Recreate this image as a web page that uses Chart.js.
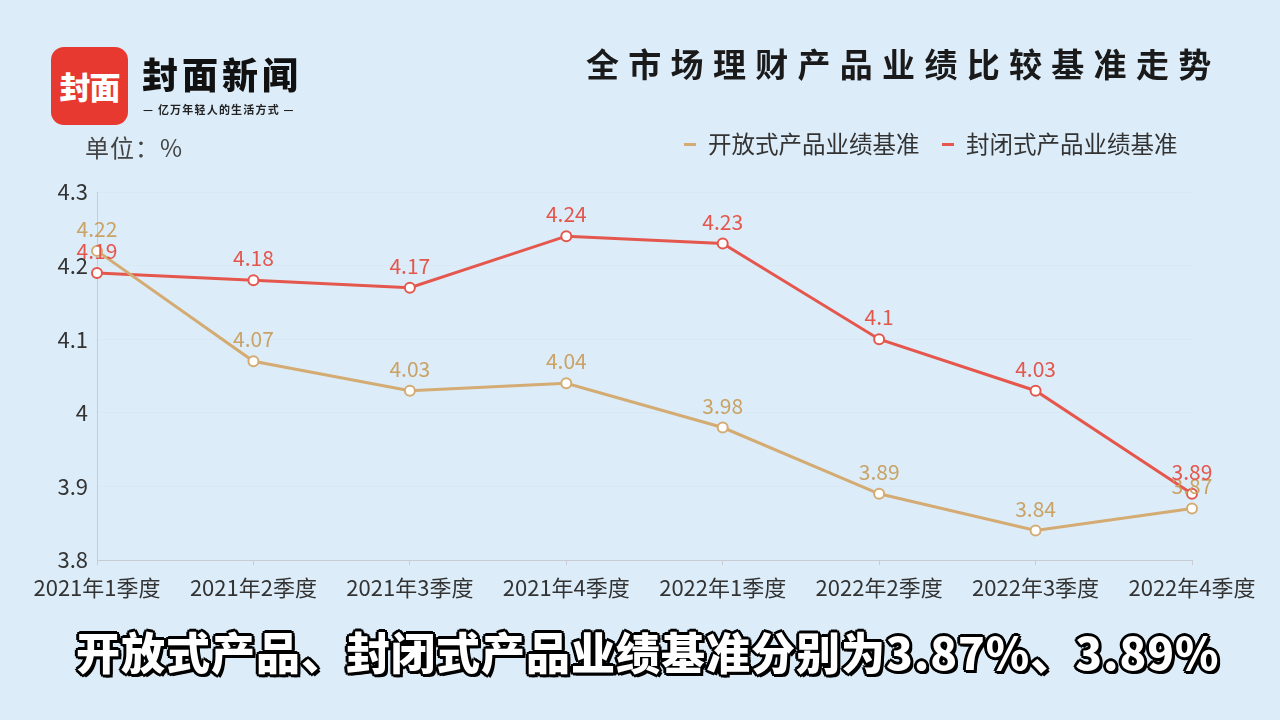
<!DOCTYPE html>
<html>
<head>
<meta charset="utf-8">
<script src="https://cdn.jsdelivr.net/npm/chart.js@4"></script>
<style>
  html, body { margin: 0; padding: 0; }
  body { width: 1280px; height: 720px; background: #dcedf9; position: relative; overflow: hidden;
         font-family: "Noto Sans CJK SC", "Noto Sans", sans-serif; }
  #wrap { position: absolute; left: 0; top: 0; width: 1280px; height: 720px; }
  .logo { position: absolute; left: 51px; top: 47px; width: 77px; height: 78px; background: #e7392f;
          border-radius: 13px; color: #fff; font-weight: 900; font-size: 31px; line-height: 78px; text-align: center; letter-spacing: -1px; }
  .brand { position: absolute; left: 142px; top: 48px; font-size: 36px; font-weight: 900; color: #111; letter-spacing: 4px; line-height: 50px; }
  .slogan { position: absolute; left: 143px; top: 101px; font-size: 11px; font-weight: 700; color: #222; line-height: 16px; letter-spacing: 1.2px; }
  .title { position: absolute; left: 586px; top: 36px; font-size: 33px; font-weight: 700; color: #1a1a1a; letter-spacing: 9.3px; line-height: 54px; }
  .unit { position: absolute; left: 85px; top: 130px; font-size: 24px; color: #444; line-height: 34px; letter-spacing: 1px; }
  .legend { position: absolute; top: 127px; font-size: 23.5px; color: #333; line-height: 32px; }
  .legend i { display: inline-block; width: 12px; height: 3px; vertical-align: middle; margin-right: 12px; position: relative; top: -2px; }
  .caption { position: absolute; left: 76px; top: 621px; font-size: 44px; font-weight: 900; color: #fff; line-height: 60px; letter-spacing: 1px;
             text-shadow: -2px -2px 0 #000, 2px -2px 0 #000, -2px 2px 0 #000, 2px 2px 0 #000, 0 -3px 0 #000, 0 3px 0 #000, -3px 0 0 #000, 3px 0 0 #000, 3px 3px 0 #000; }
</style>
</head>
<body>
<div id="wrap"><canvas id="chart" width="1280" height="720"></canvas></div>
<div class="logo">封面</div>
<div class="brand">封面新闻</div>
<div class="slogan">— 亿万年轻人的生活方式 —</div>
<div class="title">全市场理财产品业绩比较基准走势</div>
<div class="unit">单位：%</div>
<div class="legend" style="left:684px"><i style="background:#d4ab72"></i>开放式产品业绩基准</div>
<div class="legend" style="left:942px"><i style="background:#e5574d"></i>封闭式产品业绩基准</div>
<div class="caption">开放式产品、封闭式产品业绩基准分别为3.87%、3.89%</div>
<script>
const quarters = ['2021年1季度','2021年2季度','2021年3季度','2021年4季度','2022年1季度','2022年2季度','2022年3季度','2022年4季度'];
const openValues = [4.22, 4.07, 4.03, 4.04, 3.98, 3.89, 3.84, 3.87];
const closedValues = [4.19, 4.18, 4.17, 4.24, 4.23, 4.1, 4.03, 3.89];
const yTicks = [3.8, 3.9, 4, 4.1, 4.2, 4.3];

const OPEN = '#d4ab72', CLOSED = '#e5574d';
const OPEN_TXT = '#c9a264', CLOSED_TXT = '#e4564c';

// value labels above every point
const pointLabels = {
  id: 'pointLabels',
  afterDatasetsDraw(chart) {
    const ctx = chart.ctx;
    ctx.save();
    ctx.font = '21px "Noto Sans CJK SC", "Noto Sans", sans-serif';
    ctx.textAlign = 'center';
    ctx.textBaseline = 'alphabetic';
    chart.data.datasets.forEach((ds, i) => {
      ctx.fillStyle = ds.labelColor;
      chart.getDatasetMeta(i).data.forEach((pt, j) => {
        ctx.fillText(String(ds.data[j]), pt.x, pt.y - 14);
      });
    });
    ctx.restore();
  }
};

new Chart(document.getElementById('chart'), {
  type: 'line',
  data: {
    labels: quarters,
    datasets: [
      { label: '开放式产品业绩基准', data: openValues, borderColor: OPEN, labelColor: OPEN_TXT, borderWidth: 3,
        pointRadius: 5, pointBackgroundColor: '#fff', pointBorderColor: OPEN, pointBorderWidth: 2, tension: 0 },
      { label: '封闭式产品业绩基准', data: closedValues, borderColor: CLOSED, labelColor: CLOSED_TXT, borderWidth: 3,
        pointRadius: 5, pointBackgroundColor: '#fff', pointBorderColor: CLOSED, pointBorderWidth: 2, tension: 0 }
    ]
  },
  options: {
    responsive: false, animation: false,
    layout: { padding: { top: 192, right: 88, left: 0, bottom: 0 } },
    plugins: { legend: { display: false }, tooltip: { enabled: false } },
    scales: {
      x: {
        offset: false,
        grid: { display: true, drawOnChartArea: false, drawTicks: true, tickLength: 5, color: '#c8ccd2' },
        border: { color: '#c8ccd2' },
        ticks: { color: '#333', font: { size: 22, family: '"Noto Sans CJK SC", sans-serif' }, padding: 9, maxRotation: 0, autoSkip: false },
        afterFit(s) { s.height = 160; }
      },
      y: {
        min: 3.8, max: 4.3,
        afterBuildTicks(s) { s.ticks = yTicks.map(v => ({ value: v })); },
        grid: { display: true, drawTicks: false, color: 'rgba(205,215,228,0.2)' },
        border: { color: '#c8ccd2' },
        ticks: { color: '#333', font: { size: 22, family: '"Noto Sans CJK SC", sans-serif' }, padding: 9,
                 callback: v => String(Math.round(v * 10) / 10) },
        afterFit(s) { s.width = 97; }
      }
    }
  },
  plugins: [pointLabels]
});
</script>
</body>
</html>
